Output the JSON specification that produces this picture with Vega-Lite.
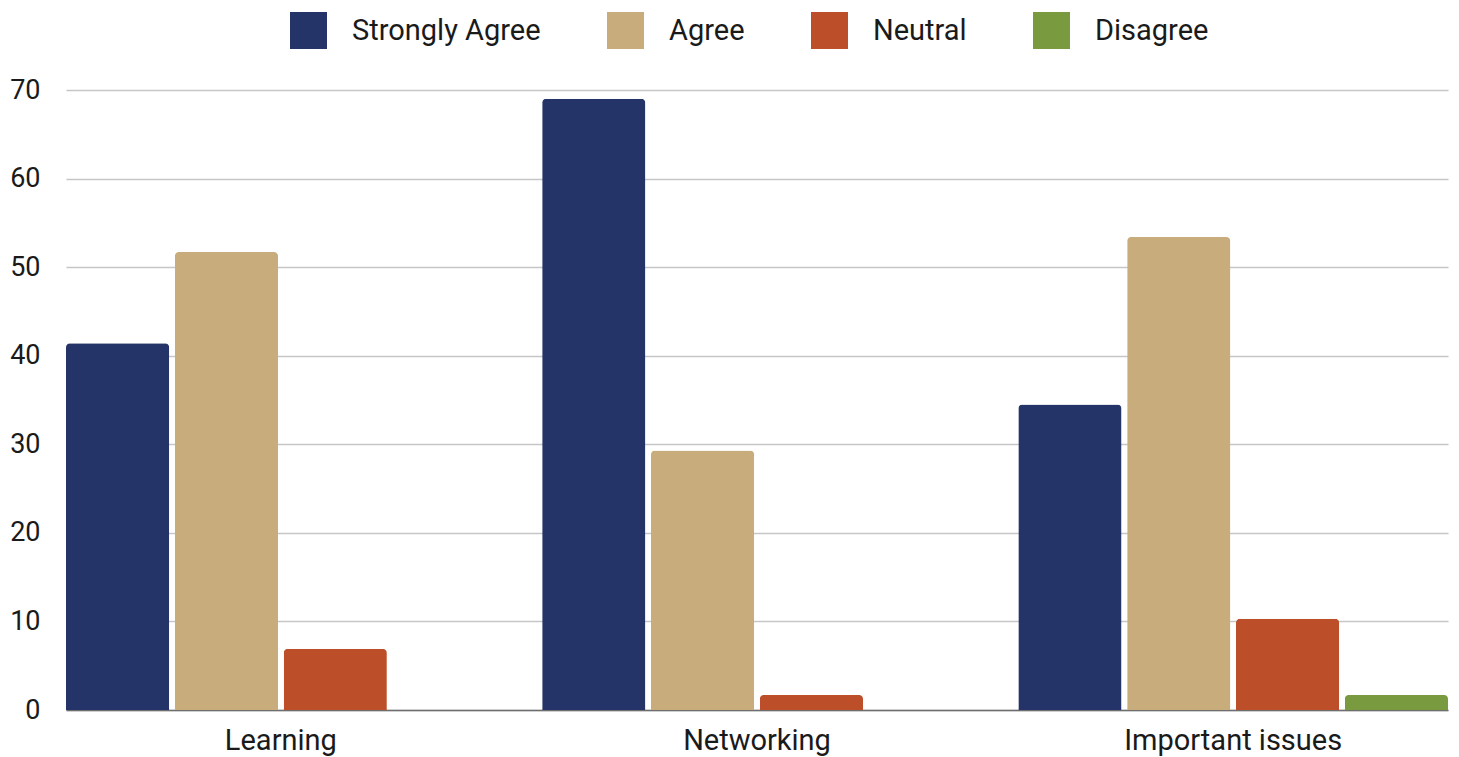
{
  "$schema": "https://vega.github.io/schema/vega-lite/v6.json",
  "autosize": "none",
  "width": 1382,
  "height": 620,
  "padding": {"left": 66, "top": 90, "right": 11, "bottom": 47},
  "background": "white",
  "data": {
    "values": [
      {"topic": "Learning", "response": "Strongly Agree", "value": 41.4},
      {"topic": "Learning", "response": "Agree", "value": 51.7},
      {"topic": "Learning", "response": "Neutral", "value": 6.9},
      {"topic": "Learning", "response": "Disagree", "value": 0},
      {"topic": "Networking", "response": "Strongly Agree", "value": 69.0},
      {"topic": "Networking", "response": "Agree", "value": 29.3},
      {"topic": "Networking", "response": "Neutral", "value": 1.7},
      {"topic": "Networking", "response": "Disagree", "value": 0},
      {"topic": "Important issues", "response": "Strongly Agree", "value": 34.5},
      {"topic": "Important issues", "response": "Agree", "value": 53.4},
      {"topic": "Important issues", "response": "Neutral", "value": 10.3},
      {"topic": "Important issues", "response": "Disagree", "value": 1.7}
    ]
  },
  "mark": {"type": "bar", "cornerRadiusTopLeft": 4, "cornerRadiusTopRight": 4},
  "encoding": {
    "x": {
      "field": "topic",
      "type": "nominal",
      "sort": ["Learning", "Networking", "Important issues"],
      "scale": {"paddingInner": 0.0976, "paddingOuter": 0},
      "axis": {
        "title": null,
        "labelAngle": 0,
        "labelFontSize": 29,
        "labelPadding": 16,
        "labelLimit": 0,
        "ticks": false,
        "domainColor": "#6e6e6e",
        "domainWidth": 1.5,
        "grid": false
      }
    },
    "xOffset": {
      "field": "response",
      "type": "nominal",
      "scale": {
        "domain": ["Strongly Agree", "Agree", "Neutral", "Disagree"],
        "paddingInner": 0.052,
        "paddingOuter": 0
      }
    },
    "y": {
      "field": "value",
      "type": "quantitative",
      "scale": {"domain": [0, 70], "nice": false},
      "axis": {
        "title": null,
        "values": [0, 10, 20, 30, 40, 50, 60, 70],
        "labelFontSize": 27,
        "labelPadding": 26,
        "ticks": false,
        "domain": false,
        "gridColor": "#c6c6c6",
        "gridWidth": 1.5
      }
    },
    "color": {
      "field": "response",
      "type": "nominal",
      "scale": {
        "domain": ["Strongly Agree", "Agree", "Neutral", "Disagree"],
        "range": ["#243468", "#c9ac7b", "#bc4e29", "#7a9a3f"]
      },
      "legend": {
        "title": null,
        "orient": "none",
        "direction": "horizontal",
        "legendX": 224,
        "legendY": -78,
        "symbolType": "square",
        "symbolSize": 1369,
        "symbolStrokeWidth": 0,
        "symbolOpacity": 1,
        "labelFontSize": 29,
        "labelOffset": 25,
        "labelLimit": 0,
        "columnPadding": 66,
        "padding": 0
      }
    }
  },
  "config": {
    "view": {"stroke": null},
    "font": "Roboto",
    "axis": {"labelColor": "#1a1a1a", "labelFont": "Roboto"},
    "legend": {"labelColor": "#1a1a1a", "labelFont": "Roboto"}
  }
}
